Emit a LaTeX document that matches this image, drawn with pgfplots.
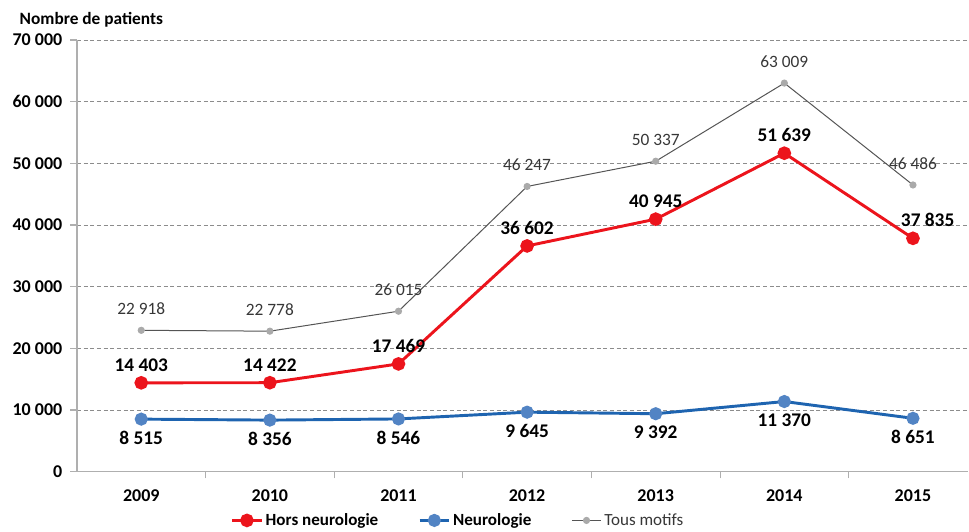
\documentclass[border=0pt]{standalone}
\usepackage{pgfplots}
\usepackage{pgfplotstable}
\pgfplotsset{compat=1.18}
\usepackage{fontspec}
\setmainfont{Carlito}
\definecolor{cred}{RGB}{236,20,28}
\definecolor{cblue}{RGB}{30,100,176}
\definecolor{cbluem}{RGB}{82,132,196}
\definecolor{cgrayl}{RGB}{85,85,85}
\definecolor{cgraym}{RGB}{170,170,170}
\definecolor{cgrid}{RGB}{140,140,140}
\definecolor{caxis}{RGB}{175,175,175}
\definecolor{ctxtg}{RGB}{55,55,55}

\pgfplotstableread{
x y xs
0 14403 0
1 14422 0
2 17469 0
3 36602 0
4 40945 0
5 51639 0
6 37835 11
}\hors
\pgfplotstableread{
x y xs
0 8515 0
1 8356 0
2 8546 0
3 9645 0
4 9392 0
5 11370 0
6 8651 0
}\neuro
\pgfplotstableread{
x y xs
0 22918 0
1 22778 0
2 26015 0
3 46247 0
4 50337 0
5 63009 0
6 46486 0
}\tous

\begin{document}
\begin{tikzpicture}
\begin{axis}[
  name=ax, at={(0,0)}, anchor=south west,
  scale only axis, width=669pt, height=324pt,
  xmin=-0.5, xmax=6.43, ymin=0, ymax=70000,
  axis x line=bottom, axis y line=left,
  axis line style={-, draw=caxis, line width=1.1pt},
  xtick={0,...,6}, xticklabels={2009,2010,2011,2012,2013,2014,2015},
  major x tick style={draw=none},
  minor xtick={0.5,1.5,2.5,3.5,4.5,5.5},
  minor tick length=5pt,
  tick align=outside,
  ytick={0,10000,...,70000},
  major tick length=5pt,
  tick style={draw=caxis, line width=0.8pt},
  ymajorgrids,
  major grid style={dashed, draw=cgrid, line width=0.6pt, dash pattern=on 3pt off 2pt},
  scaled y ticks=false,
  /pgf/number format/.cd, 1000 sep={\ }, assume math mode=true, fixed, precision=0,
  /pgfplots/.cd,
  yticklabel style={font=\bfseries\fontsize{13.5}{15}\selectfont, xshift=-2.5pt},
  xticklabel style={font=\bfseries\fontsize{13.5}{15}\selectfont, yshift=-5pt},
  legend style={at={(0.428,-0.113)}, anchor=center, draw=none, fill=none,
    legend columns=-1, font=\fontsize{12.8}{14}\selectfont,
    /tikz/every even column/.append style={column sep=28pt},
    inner sep=1pt},
  legend image code/.code={\draw[mark repeat=2,mark phase=2,#1] plot coordinates {(0pt,0pt) (11pt,0pt) (22pt,0pt)};},
  clip=false,
]
\addplot[cred, line width=2.2pt, mark=*, mark size=4pt, mark options={solid, fill=cred, draw=cred},
  nodes near coords={\pgfmathprintnumber[assume math mode=true, 1000 sep={\ }, fixed, precision=0]{\pgfplotspointmeta}},
  point meta=y,
  visualization depends on={\thisrow{xs}\as\xs},
  every node near coord/.append style={font=\bfseries\fontsize{14.5}{16}\selectfont, text=black, anchor=center, yshift=13.5pt, xshift=\xs pt}]
  table[x=x,y=y] {\hors};
\addlegendentry{\textbf{Hors neurologie}}
\addplot[cblue, line width=2.2pt, mark=*, mark size=3.8pt, mark options={solid, fill=cbluem, draw=cbluem},
  nodes near coords={\pgfmathprintnumber[assume math mode=true, 1000 sep={\ }, fixed, precision=0]{\pgfplotspointmeta}},
  point meta=y,
  every node near coord/.append style={font=\bfseries\fontsize{14.5}{16}\selectfont, text=black, anchor=center, yshift=-14pt}]
  table[x=x,y=y] {\neuro};
\addlegendentry{\textbf{Neurologie}}
\addplot[cgrayl, line width=0.75pt, mark=*, mark size=2.3pt, mark options={solid, fill=cgraym, draw=cgraym},
  nodes near coords={\pgfmathprintnumber[assume math mode=true, 1000 sep={\ }, fixed, precision=0]{\pgfplotspointmeta}},
  point meta=y,
  every node near coord/.append style={font=\fontsize{13}{15}\selectfont, text=ctxtg, anchor=center, yshift=16pt}]
  table[x=x,y=y] {\tous};
\addlegendentry{\textcolor{ctxtg}{Tous motifs}}
\end{axis}
\node[anchor=base west, font=\bfseries\fontsize{13}{15}\selectfont] at ([shift={(-46.5pt,11.25pt)}]ax.north west) {Nombre de patients};
\path[use as bounding box] ([shift={(-57.75pt,-44.25pt)}]ax.south west) rectangle ([shift={(0pt,30pt)}]ax.north east);
\end{tikzpicture}
\end{document}
